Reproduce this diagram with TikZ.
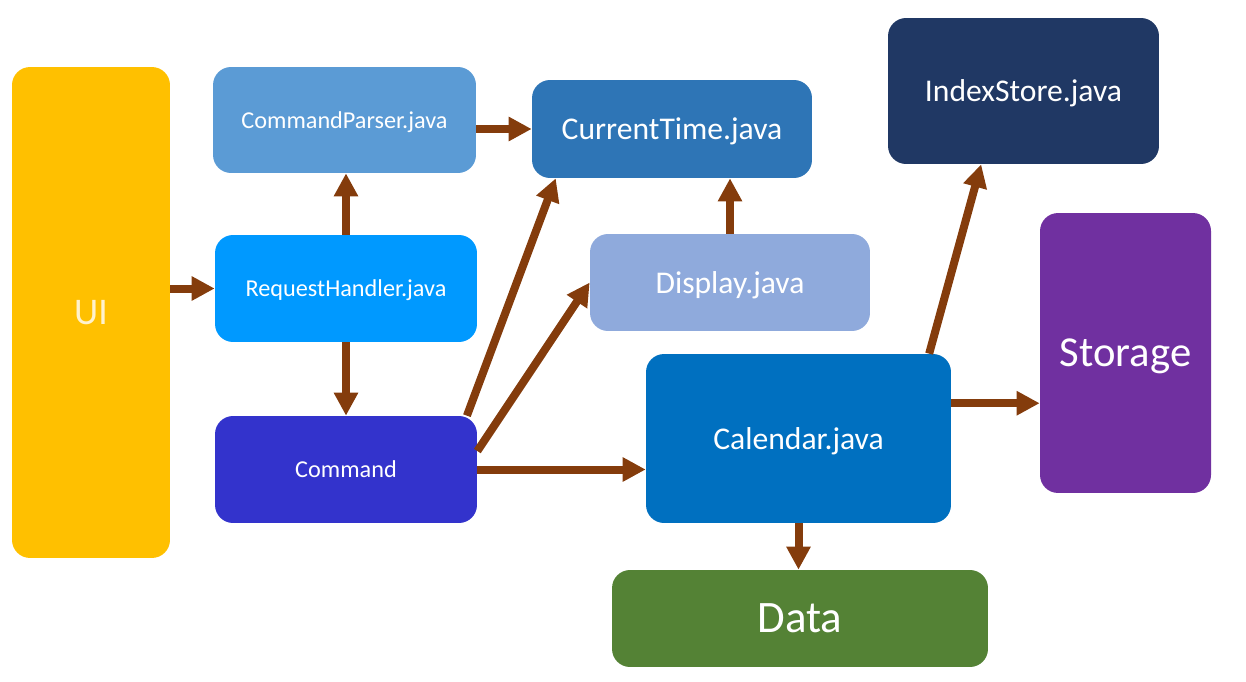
\documentclass[tikz,border=0pt]{standalone}
\usepackage{fontspec}
\setmainfont{Carlito}
\usepackage{tikz}
\usetikzlibrary{arrows.meta, shapes, positioning}

\definecolor{uiyellow}{HTML}{FFC000}
\definecolor{uitext}{HTML}{FFF2CC}
\definecolor{parserblue}{HTML}{5B9BD5}
\definecolor{timeblue}{HTML}{2E75B6}
\definecolor{handlerblue}{HTML}{0099FF}
\definecolor{displayblue}{HTML}{8FAADC}
\definecolor{commandblue}{HTML}{3333CC}
\definecolor{calendarblue}{HTML}{0070C0}
\definecolor{indexnavy}{HTML}{203864}
\definecolor{storagepurple}{HTML}{7030A0}
\definecolor{datagreen}{HTML}{548235}
\definecolor{arrowbrown}{HTML}{843C0C}

\begin{document}
\begin{tikzpicture}[x=0.02cm, y=-0.02cm,
  blk/.style={rectangle, rounded corners=0.36cm, inner sep=0pt, text depth=0pt, text=white, align=center},
  small/.style={font=\fontsize{13.8}{16}\selectfont},
  medium/.style={font=\fontsize{18}{21}\selectfont},
  arr/.style={draw=arrowbrown, line width=0.16cm, -{Triangle[length=0.46cm, width=0.46cm]}}]
\useasboundingbox (0,0) rectangle (1246,682);

% boxes
\node[blk, fill=uiyellow, text=uitext, minimum width=3.16cm, minimum height=9.82cm, font=\fontsize{21.4}{25}\selectfont] (ui) at (91,312.5) {UI};
\node[blk, small, fill=parserblue, minimum width=5.26cm, minimum height=2.12cm] (parser) at (344.5,120) {CommandParser.java};
\node[blk, medium, fill=timeblue, minimum width=5.6cm, minimum height=1.96cm] (curtime) at (672,129) {CurrentTime.java};
\node[blk, small, fill=handlerblue, minimum width=5.24cm, minimum height=2.14cm] (handler) at (346,288.5) {RequestHandler.java};
\node[blk, medium, fill=displayblue, minimum width=5.6cm, minimum height=1.94cm] (display) at (730,282.5) {Display.java};
\node[blk, small, fill=commandblue, minimum width=5.24cm, minimum height=2.14cm] (command) at (346,469.5) {Command};
\node[blk, medium, fill=calendarblue, minimum width=6.1cm, minimum height=3.38cm] (calendar) at (798.5,438.5) {Calendar.java};
\node[blk, medium, fill=indexnavy, minimum width=5.42cm, minimum height=2.92cm] (index) at (1023.5,91) {IndexStore.java};
\node[blk, fill=storagepurple, minimum width=3.42cm, minimum height=5.6cm, font=\fontsize{24.3}{29}\selectfont] (storage) at (1125.5,353) {Storage};
\node[blk, fill=datagreen, minimum width=7.52cm, minimum height=1.94cm, font=\fontsize{25.6}{30}\selectfont] (data) at (800,618.5) {Data};

% connectors
\draw[arr] (ui.east |- handler.west) -- (handler.west);
\draw[arr] (handler.north) -- (handler.north |- parser.south);
\draw[arr] (handler.south) -- (command.north);
\draw[arr] (parser.east |- curtime.west) -- (curtime.west);
\draw[arr] (command.24) -- (curtime.203);
\draw[arr] (command.8) -- (display.west);
\draw[arr] (command.east) -- (command.east -| calendar.west);
\draw[arr] (display.north) -- (display.north |- curtime.south);
\draw[arr] (calendar.33) -- (index.240);
\draw[arr] (calendar.13.5) -- (calendar.13.5 -| storage.west);
\draw[arr] (calendar.south) -- (calendar.south |- data.north);

\end{tikzpicture}
\end{document}
